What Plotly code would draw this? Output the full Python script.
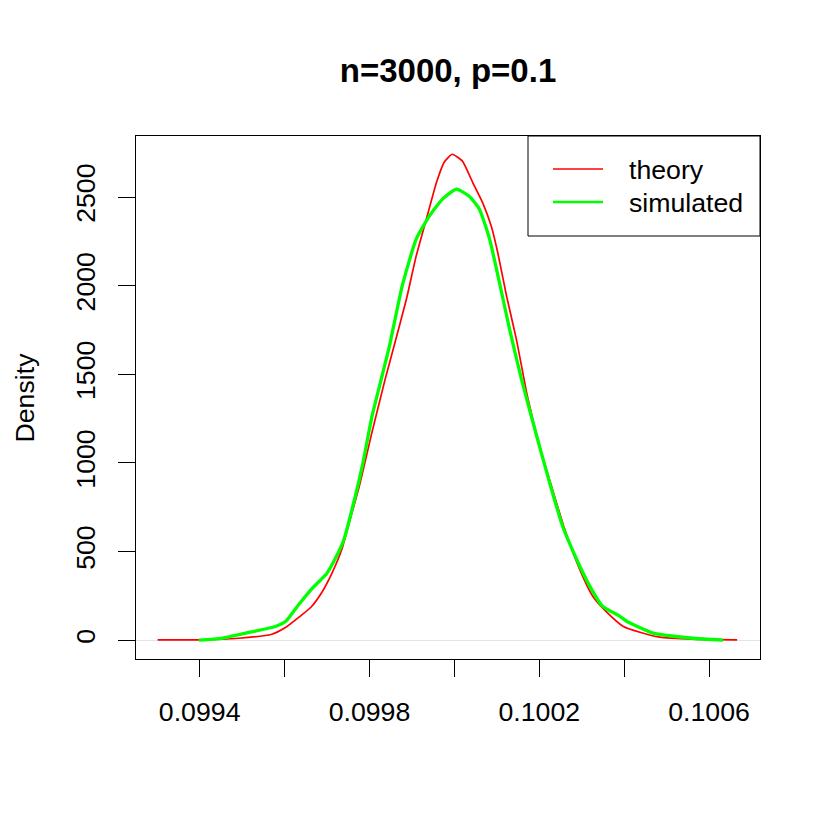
import plotly.graph_objects as go

title_text = "n=3000, p=0.1"
y_label = "Density"
series_names = ["theory", "simulated"]
series_colors = ["#FF0000", "#00FF00"]

x_ticks = [0.0994, 0.0996, 0.0998, 0.1000, 0.1002, 0.1004, 0.1006]
x_tick_labels = ["0.0994", "", "0.0998", "", "0.1002", "", "0.1006"]
y_ticks = [0, 500, 1000, 1500, 2000, 2500]
y_tick_labels = ["0", "500", "1000", "1500", "2000", "2500"]

theory_x = [0.099301, 0.099398, 0.099492, 0.099570, 0.099603, 0.099634, 0.099662,
            0.099688, 0.099712, 0.099736, 0.099745, 0.099776, 0.099806, 0.099837,
            0.099854, 0.099887, 0.099910, 0.099934, 0.099958, 0.099976, 0.099995,
            0.100019, 0.100043, 0.100066, 0.100087, 0.100102, 0.100123, 0.100146,
            0.100172, 0.100201, 0.100231, 0.100260, 0.100295, 0.100326, 0.100359,
            0.100397, 0.100437, 0.100484, 0.100562, 0.100666]
theory_y = [2, 2, 11, 34, 73, 130, 186, 271, 380, 520, 600, 869, 1174, 1473,
            1625, 1924, 2167, 2376, 2584, 2697, 2742, 2703, 2584, 2472, 2336, 2189,
            1941, 1699, 1377, 1095, 852, 626, 401, 248, 158, 79, 45, 17, 6, 2]

sim_x = [0.099398, 0.099452, 0.099509, 0.099580, 0.099603, 0.099634, 0.099665,
         0.099698, 0.099721, 0.099740, 0.099759, 0.099783, 0.099806, 0.099823,
         0.099847, 0.099877, 0.099910, 0.099941, 0.099972, 0.100005, 0.100035,
         0.100059, 0.100083, 0.100106, 0.100130, 0.100158, 0.100194, 0.100224,
         0.100255, 0.100288, 0.100319, 0.100349, 0.100390, 0.100406, 0.100468,
         0.100562, 0.100633]
sim_y = [0, 11, 40, 79, 107, 203, 293, 372, 468, 570, 739, 982, 1264, 1428,
         1659, 1998, 2263, 2393, 2489, 2545, 2505, 2432, 2263, 2020, 1755, 1473,
         1151, 892, 643, 457, 305, 192, 135, 107, 40, 11, 0]

FONT = "Liberation Sans, Arial, Helvetica, sans-serif"
FS = 26.7

# page body has an 8px margin; figure is sized so the plot lands where R put it
W = H = 822
ML, MR, MT, MB = 128, 70, 128, 171
PW = W - ML - MR
PH = H - MT - MB


def px_to_paper_x(px):
    return (px - 8 - ML) / PW


def px_to_paper_y(py):
    return (H - MB - (py - 8)) / PH


fig = go.Figure()
fig.add_trace(go.Scatter(x=theory_x, y=theory_y, mode="lines", name=series_names[0],
                         showlegend=False,
                         line=dict(color=series_colors[0], width=1.7, shape="spline", smoothing=0.5)))
fig.add_trace(go.Scatter(x=sim_x, y=sim_y, mode="lines", name=series_names[1],
                         showlegend=False,
                         line=dict(color=series_colors[1], width=3.3, shape="spline", smoothing=0.5)))

# legend built like R's legend(): box, line samples, labels
shapes = [dict(type="rect", xref="paper", yref="paper",
               x0=px_to_paper_x(528), x1=1.0, y0=px_to_paper_y(236), y1=1.0,
               line=dict(color="black", width=1), fillcolor="rgba(0,0,0,0)")]
annotations = [dict(text=y_label, xref="paper", yref="paper",
                    x=px_to_paper_x(24), y=0.5, xanchor="center", yanchor="middle",
                    textangle=-90, showarrow=False,
                    font=dict(size=FS, family=FONT, color="black"))]
leg_rows = [169, 202]
leg_widths = [1.7, 2.5]
for name, col, row, lw in zip(series_names, series_colors, leg_rows, leg_widths):
    shapes.append(dict(type="line", xref="paper", yref="paper",
                       x0=px_to_paper_x(553), x1=px_to_paper_x(603),
                       y0=px_to_paper_y(row), y1=px_to_paper_y(row),
                       line=dict(color=col, width=lw)))
    annotations.append(dict(text=name, xref="paper", yref="paper",
                            x=px_to_paper_x(627), y=px_to_paper_y(row + 1),
                            xanchor="left", yanchor="middle", showarrow=False,
                            font=dict(size=FS, family=FONT, color="black")))

fig.update_layout(
    width=W, height=H,
    margin=dict(l=ML, r=MR, t=MT, b=MB, pad=0),
    paper_bgcolor="white", plot_bgcolor="white",
    font=dict(family=FONT, size=FS, color="black"),
    title=dict(text="<b>" + title_text + "</b>", x=0.5, xref="paper",
               y=1 - (70 - 8) / H, yref="container", yanchor="middle",
               xanchor="center", font=dict(size=33, family=FONT, color="black")),
    showlegend=False,
    shapes=shapes,
    annotations=annotations,
)

fig.update_xaxes(range=[0.09925, 0.10072], tickvals=x_ticks, ticktext=x_tick_labels,
                 showgrid=False, zeroline=False, showline=True, mirror=True,
                 linecolor="black", linewidth=1, ticks="outside", ticklen=17,
                 tickwidth=1, tickcolor="black", ticklabelstandoff=12)
fig.update_yaxes(range=[-106, 2845], tickvals=y_ticks, ticktext=y_tick_labels,
                 showgrid=False, zeroline=True, zerolinecolor="#e4e4e4", zerolinewidth=1,
                 showline=True, mirror=True, linecolor="black", linewidth=1,
                 ticks="outside", ticklen=17, tickwidth=1, tickcolor="black",
                 tickangle=-90, ticklabelstandoff=12)

fig.write_html("out.html")
